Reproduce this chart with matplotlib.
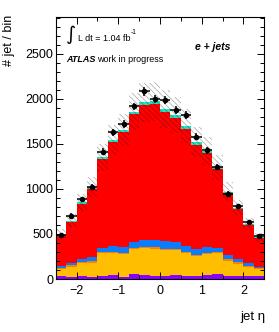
import numpy as np
import matplotlib
matplotlib.use("Agg")
import matplotlib.pyplot as plt
from matplotlib.ticker import MultipleLocator

plt.rcParams['font.family'] = ['Liberation Sans', 'DejaVu Sans']
plt.rcParams['hatch.linewidth'] = 0.5

# jet eta bins
edges = np.linspace(-2.5, 2.5, 21)
centers = 0.5 * (edges[:-1] + edges[1:])
width = edges[1] - edges[0]

# stack contributions (bottom -> top)
purple = [33, 22, 33, 19, 33, 48, 27, 52, 44, 37, 33, 48, 37, 33, 44, 56, 37, 33, 33, 30]
yellow = [78, 115, 145, 162, 252, 237, 251, 277, 300, 300, 289, 270, 252, 222, 230, 229, 167, 137, 100, 77]
orange = [15, 15, 15, 15, 15, 15, 15, 15, 15, 15, 15, 15, 15, 15, 15, 15, 15, 15, 15, 15]
blue = [22, 29, 29, 45, 44, 70, 66, 63, 78, 85, 82, 74, 66, 60, 63, 44, 51, 34, 26, 11]
red = [344, 452, 611, 759, 989, 1149, 1271, 1423, 1496, 1507, 1440, 1382, 1300, 1163, 1044, 878, 686, 559, 426, 323]
cyan = [13, 15, 19, 18, 19, 25, 25, 29, 30, 30, 30, 29, 30, 26, 26, 19, 14, 15, 11, 7]

data = [485, 703, 883, 1019, 1413, 1628, 1720, 1916, 2083, 2003, 1992, 1874, 1822, 1580, 1428, 1241, 943, 807, 633, 475]

syst_frac = 0.11

layers = [(purple, '#8c00ff'), (yellow, '#ffbf00'), (orange, '#ff7f00'),
          (blue, '#0a7dff'), (red, '#ff0000'), (cyan, '#1be6c0')]

fig = plt.figure(figsize=(2.79, 3.32), dpi=100)
ax = fig.add_axes([55.8/279, 1-279/332, (264.2-55.8)/279, (279-17)/332])

bottom = np.zeros(len(centers))
for vals, col in layers:
    vals = np.array(vals, dtype=float)
    ax.bar(centers, vals, width=width, bottom=bottom, color=col, linewidth=0, antialiased=False)
    bottom = bottom + vals

total = bottom
err = syst_frac * total
ax.bar(centers, 2*err, width=width, bottom=total-err, fill=False,
       hatch='\\\\\\\\\\\\', edgecolor=(0, 0, 0, 0.35), linewidth=0)

data = np.array(data, dtype=float)
ax.errorbar(centers, data, xerr=width/2, yerr=np.sqrt(data), fmt='o', color='k',
            ms=3.0, elinewidth=1.1, capsize=0)

ax.set_xlim(-2.5, 2.5)
ax.set_ylim(0, 2910)
ax.xaxis.set_major_locator(MultipleLocator(1))
ax.xaxis.set_minor_locator(MultipleLocator(0.5))
ax.yaxis.set_major_locator(MultipleLocator(500))
ax.yaxis.set_minor_locator(MultipleLocator(100))
ax.tick_params(which='both', direction='in', top=True, right=True, width=0.7, labelsize=9)
ax.tick_params(which='major', length=5)
ax.tick_params(which='minor', length=2.8)
ax.tick_params(axis='y', pad=2)
ax.tick_params(axis='x', pad=4)
for s in ax.spines.values():
    s.set_linewidth(0.8)

fig.text(9/279, 1-15/332, '# jet / bin', rotation=90, ha='center', va='top', fontsize=9)
fig.text(265/279, 1-317/332, 'jet η', ha='right', va='center', fontsize=9.5)

fig.text(71/279, 1-35/332, '∫', ha='center', va='center', fontsize=14, family=['DejaVu Sans'])
fig.text(78/279, 1-38.5/332, 'L dt = 1.04 fb', ha='left', va='center', fontsize=6.5)
fig.text(131/279, 1-33/332, '-1', ha='left', va='center', fontsize=4.8)
fig.text(66/279, 1-59/332, 'ATLAS', ha='left', va='center', fontsize=6.5,
         fontweight='bold', fontstyle='italic')
fig.text(97/279, 1-59/332, 'work in progress', ha='left', va='center', fontsize=6.5)
fig.text(195/279, 1-47/332, 'e + jets', ha='left', va='center', fontsize=7.5,
         fontweight='bold', fontstyle='italic')

fig.savefig('out.png', dpi=100)
